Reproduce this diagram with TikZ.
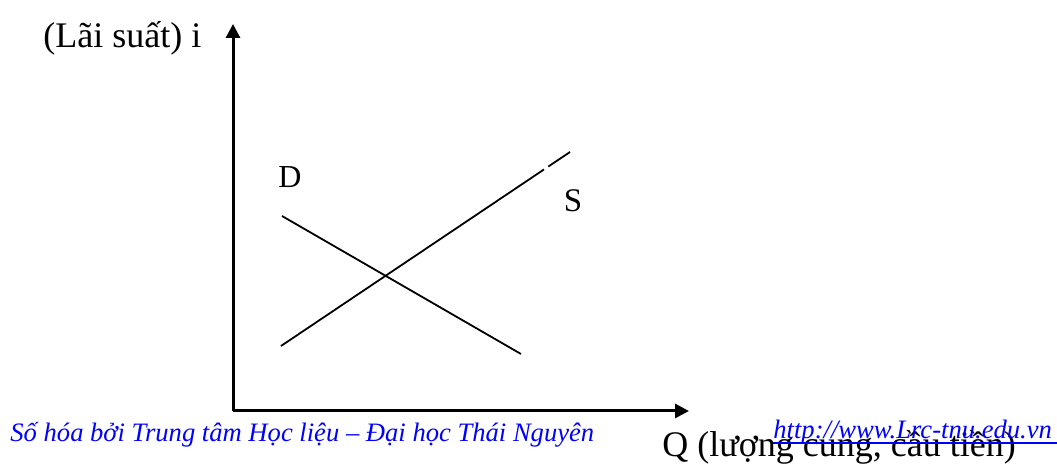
\documentclass[tikz,border=0pt]{standalone}
\usepackage{fontspec}
\setmainfont{Liberation Serif}
\usepackage{tikz}
\usetikzlibrary{arrows.meta,calc}
\usepackage{xcolor}
\definecolor{cmlink}{HTML}{0000FF}

\begin{document}
\begin{tikzpicture}[
  x=0.5pt, y=-0.5pt,
  axis/.style={-{Triangle[length=7pt,width=7pt]}, line width=1.5pt},
  curve/.style={line width=0.9pt},
  lbl/.style={inner sep=0pt, font=\fontsize{18}{20}\selectfont},
  foot/.style={inner sep=0pt, text=cmlink, font=\fontsize{13.3}{15}\selectfont\itshape}
]
\useasboundingbox (0,0) rectangle (1057,464);
% axes
\coordinate (o) at (233,411);
\coordinate (ytip) at (233,24);
\coordinate (xtip) at (689,411);
\draw[axis] (o) -- (ytip);
\draw[axis] (o) -- (xtip);
\node[lbl, anchor=base west] (ilbl) at (43,48) {(Lãi suất) i};
% demand and supply
\coordinate (d1) at (282,216);
\coordinate (d2) at (521,354);
\coordinate (s1) at (281,346);
\coordinate (s2) at (570,152);
\draw[curve] (d1) -- (d2);
\draw[curve] (s1) -- ($(s1)!0.91!(s2)$);
\draw[curve] ($(s1)!0.925!(s2)$) -- (s2);
\node[lbl, font=\fontsize{16}{18}\selectfont] (dlbl) at (290,177) {D};
\node[lbl, font=\fontsize{16.5}{18}\selectfont] (slbl) at (573,201) {S};
% footer
\node[lbl, anchor=base west] (qlbl) at (662,457) {Q (lượng cung, cầu tiền)};
\node[foot, anchor=base west] (src) at (10,442) {Số hóa bởi Trung tâm Học liệu – Đại học Thái Nguyên};
\node[foot, anchor=base west] (url) at (773,439) {http://www.Lrc-tnu.edu.vn};
\coordinate (uend) at (1057,443);
\draw[cmlink, line width=0.75pt] (url.base west |- uend) -- (uend);
\end{tikzpicture}
\end{document}
